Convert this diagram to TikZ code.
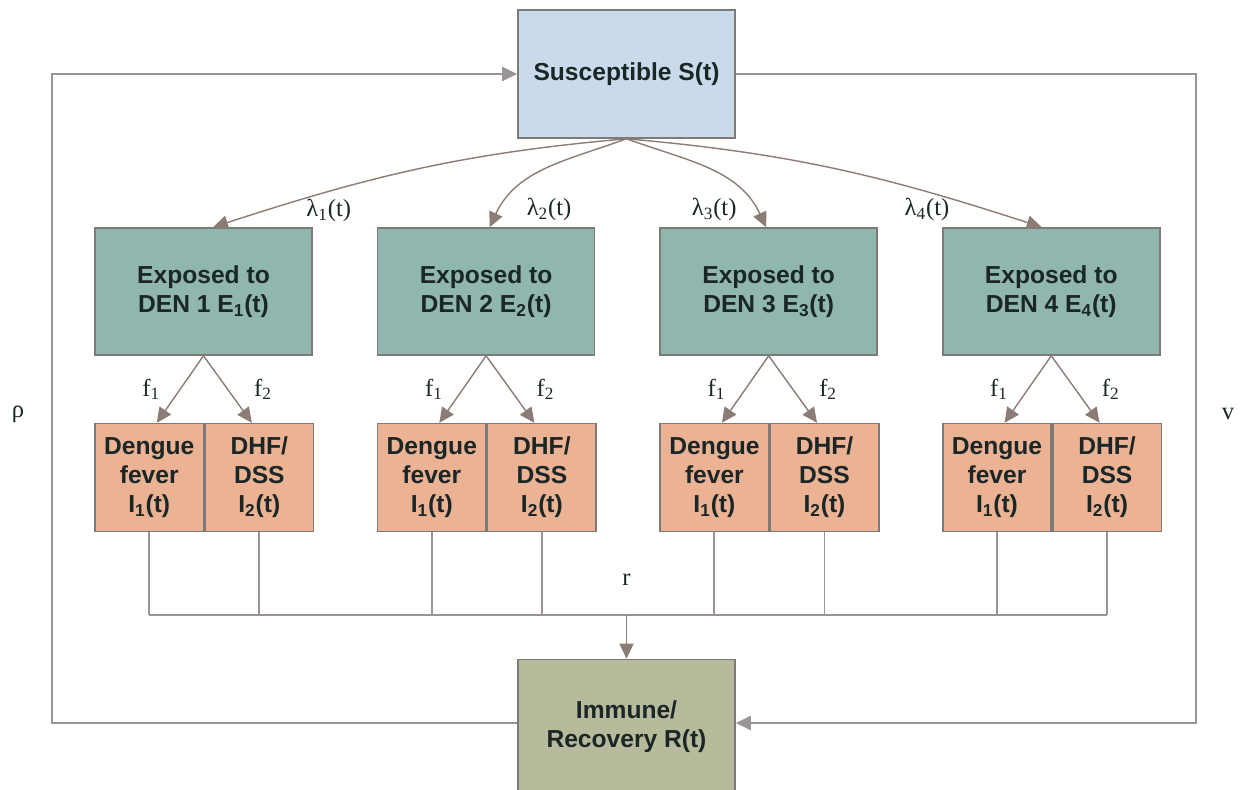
\documentclass[tikz,border=0pt]{standalone}
\usepackage{fontspec}
\setmainfont{Liberation Serif}
\setsansfont{Liberation Sans}
\usepackage{tikz}
\usetikzlibrary{arrows.meta,positioning,calc}
\definecolor{Ink}{HTML}{1B2626}
\definecolor{Frame}{HTML}{7E7A78}
\definecolor{Arrow}{HTML}{8C7C76}
\definecolor{Link}{HTML}{9A9594}
\definecolor{PaleBlue}{HTML}{C9DAEA}
\definecolor{Teal}{HTML}{8FB7AF}
\definecolor{Salmon}{HTML}{EBB294}
\definecolor{Olive}{HTML}{B8BA9C}
\tikzset{
  box/.style={draw=Frame,line width=0.9pt,align=center,inner sep=2pt,text=Ink,
              font=\sffamily\bfseries\fontsize{14}{16.5}\selectfont},
  susbox/.style={box,fill=PaleBlue,minimum width=43.4mm,minimum height=25.6mm},
  expbox/.style={box,fill=Teal,minimum width=43.4mm,minimum height=25.4mm},
  infbox/.style={box,fill=Salmon,minimum width=21.7mm,minimum height=21.6mm},
  recbox/.style={box,fill=Olive,minimum width=43.4mm,minimum height=27mm},
  flow/.style={-{Triangle[length=3mm,width=2.8mm]},line width=0.8pt,draw=Arrow},
  loopflow/.style={-{Triangle[length=3mm,width=2.8mm]},line width=1.1pt,draw=Link},
  link/.style={line width=1.1pt,draw=Link},
  rate/.style={font=\fontsize{14}{16}\selectfont,text=Ink,inner sep=1pt}
}
\begin{document}
\begin{tikzpicture}[node distance=12.8mm and 12.8mm]
  \useasboundingbox (0,0) rectangle (24.82,15.78);
  \node[susbox] (S) at (12.53,14.30) {Susceptible S(t)};
  \node[expbox] (E1) at (4.07,9.95) {Exposed to\\DEN 1 E\textsubscript{1}(t)};
  \node[expbox,right=of E1] (E2) {Exposed to\\DEN 2 E\textsubscript{2}(t)};
  \node[expbox,right=of E2] (E3) {Exposed to\\DEN 3 E\textsubscript{3}(t)};
  \node[expbox,right=of E3] (E4) {Exposed to\\DEN 4 E\textsubscript{4}(t)};
  \node[recbox] (R) at (12.53,1.24) {Immune/\\Recovery R(t)};
  \coordinate (bus) at (12.53,3.48);
  \coordinate (lp) at (1.04,0);
  \coordinate (rp) at (23.92,0);
  \foreach \i in {1,...,4}{
    \node[infbox,below=13.4mm of E\i.south west,anchor=north west] (D\i) {Dengue\\fever\\I\textsubscript{1}(t)};
    \node[infbox,right=0pt of D\i] (H\i) {DHF/\\DSS\\I\textsubscript{2}(t)};
    \draw[flow] (E\i.south) -- node[rate,left=3.5mm]{f\textsubscript{1}} ([xshift=1.5mm]D\i.north);
    \draw[flow] (E\i.south) -- node[rate,right=4.8mm]{f\textsubscript{2}} ([xshift=-1.5mm]H\i.north);
    \draw[link] (D\i.south) -- (D\i.south |- bus);
    \draw[link] (H\i.south) -- (H\i.south |- bus);
  }
  \draw[flow] (S.south) to[out=185,in=18] ([xshift=1.9mm]E1.north);
  \draw[flow] (S.south) to[out=200,in=65] ([xshift=0.7mm]E2.north);
  \draw[flow] (S.south) to[out=-20,in=115] ([xshift=-0.5mm]E3.north);
  \draw[flow] (S.south) to[out=-5,in=162] ([xshift=-1.9mm]E4.north);
  \node[rate] (l1) at ($(E1.north east)+(0.32,0.34)$) {λ\textsubscript{1}(t)};
  \node[rate] (l2) at ($(E2.north)+(1.26,0.36)$) {λ\textsubscript{2}(t)};
  \node[rate] (l3) at ($(E3.north)+(-1.09,0.36)$) {λ\textsubscript{3}(t)};
  \node[rate] (l4) at ($(E4.north west)+(-0.3,0.36)$) {λ\textsubscript{4}(t)};
  \draw[link] (D1.south |- bus) -- (H4.south |- bus);
  \draw[flow] (bus) -- (R.north);
  \node[rate] (r) at ($(bus)+(0,0.7)$) {r};
  \draw[loopflow] ([yshift=0.8mm]R.west) -- ([yshift=0.8mm]R.west -| lp) -- (S.west -| lp) -- (S.west);
  \draw[loopflow] (S.east) -- (S.east -| rp) -- ([yshift=0.8mm]R.east -| rp) -- ([yshift=0.8mm]R.east);
  \node[rate] (rho) at (0.36,7.5) {ρ};
  \node[rate] (nu) at (24.56,7.5) {v};
\end{tikzpicture}
\end{document}
